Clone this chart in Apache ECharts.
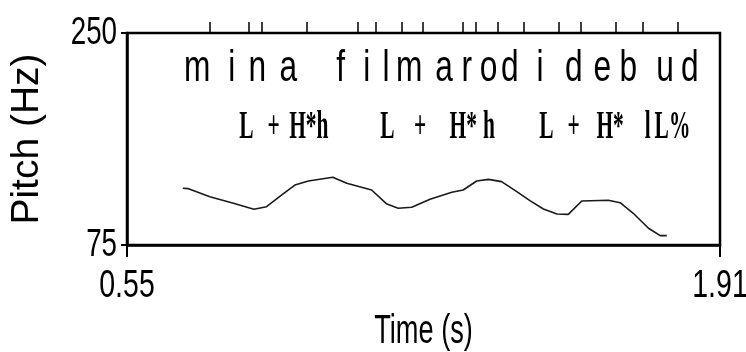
<!DOCTYPE html>
<html>
<head>
<meta charset="utf-8">
<script src="https://cdn.jsdelivr.net/npm/echarts@6/dist/echarts.min.js"></script>
<style>
  html, body { margin: 0; padding: 0; background: #fff; }
  #chart { width: 746px; height: 352px; }
</style>
</head>
<body>
<div id="chart"></div>
<script>
// Pitch contour (time in s, F0 in Hz)
const pitchTimes = [0.678, 0.691, 0.740, 0.794, 0.841, 0.870, 0.905, 0.935, 0.966, 1.022,
                    1.054, 1.111, 1.146, 1.172, 1.203, 1.245, 1.268, 1.295, 1.321, 1.352,
                    1.379, 1.409, 1.444, 1.474, 1.505, 1.536, 1.562, 1.593, 1.654, 1.681,
                    1.711, 1.746, 1.773, 1.788];
const pitchHz = [121.8, 121.5, 114.9, 109.4, 104.5, 106.6, 116.3, 124.5, 127.8, 130.9,
                 125.9, 120.4, 108.8, 105.3, 106.1, 112.7, 115.4, 118.5, 120.4, 127.8,
                 129.2, 127.3, 119.0, 111.6, 104.7, 100.6, 100.3, 111.3, 111.9, 109.9,
                 101.2, 88.8, 82.7, 82.7];

// Segment boundaries (top ticks) and segment labels
const segmentBounds = [0.740, 0.830, 0.860, 0.963, 1.080, 1.121, 1.181, 1.229, 1.321,
                       1.350, 1.401, 1.461, 1.541, 1.591, 1.672, 1.733, 1.812];
const segmentLabels = ['m', 'i', 'n', 'a', 'f', 'i', 'l', 'm', 'a', 'r', 'o', 'd', 'i',
                       'd', 'e', 'b', 'u', 'd'];
const segmentLabelTimes = [0.711, 0.790, 0.849, 0.920, 1.040, 1.100, 1.144, 1.197, 1.277,
                           1.329, 1.379, 1.428, 1.497, 1.575, 1.640, 1.700, 1.784, 1.841];

// Tonal annotation tier
const toneLabels = ['L', '+', 'H*h', 'L', '+', 'H*', 'h', 'L', '+', 'H*', 'l', 'L%'];
const toneTimes = [0.824, 0.886, 0.967, 1.147, 1.222, 1.321, 1.380, 1.512, 1.574, 1.658,
                   1.744, 1.801];

// Axis ranges / tick labels
const timeTicks = [0.55, 1.91];
const pitchTicks = [75, 250];

const chart = echarts.init(document.getElementById('chart'), null, { renderer: 'canvas' });

const sans = "'Liberation Sans', Arial, sans-serif";
const serif = "'Liberation Serif', 'Times New Roman', serif";

// Condensed text placed at a data coordinate, shifted by a pixel offset
function condensedText(text, p, dx, dy, font, scaleX, align) {
  return {
    type: 'text',
    x: p[0] + dx,
    y: p[1] + dy,
    scaleX: scaleX,
    style: {
      text: text,
      font: font,
      fill: '#000',
      align: align || 'center',
      verticalAlign: 'middle'
    }
  };
}

function textTier(labels, rowOffset, font, scaleX) {
  return function (params, api) {
    const p = api.coord([api.value(0), pitchTicks[1]]);
    return condensedText(labels[params.dataIndex], p, 0, rowOffset, font, scaleX);
  };
}

chart.setOption({
  animation: false,
  backgroundColor: '#fff',
  grid: {
    left: 127, right: 26, top: 33, bottom: 107,
    outerBoundsMode: 'none',
    containLabel: false,
    show: true, borderColor: '#000', borderWidth: 2.5, backgroundColor: 'transparent'
  },
  xAxis: [{
    type: 'value',
    min: timeTicks[0], max: timeTicks[1],
    interval: timeTicks[1] - timeTicks[0],
    axisLine: { show: true, lineStyle: { color: '#000', width: 2.5 } },
    axisTick: { show: true, length: 12, lineStyle: { color: '#000', width: 2 } },
    splitLine: { show: false },
    axisLabel: { show: false }
  }, {
    type: 'value', position: 'top',
    min: timeTicks[0], max: timeTicks[1],
    axisLine: { show: false },
    axisTick: { show: true, length: 11, customValues: segmentBounds,
                lineStyle: { color: '#000', width: 1.5 } },
    axisLabel: { show: false },
    splitLine: { show: false }
  }],
  yAxis: {
    type: 'value',
    min: pitchTicks[0], max: pitchTicks[1],
    interval: pitchTicks[1] - pitchTicks[0],
    axisLine: { show: true, lineStyle: { color: '#000', width: 2.5 } },
    axisTick: { show: true, length: 6, lineStyle: { color: '#000', width: 2 } },
    splitLine: { show: false },
    axisLabel: { show: false },
    name: 'Pitch (Hz)', nameLocation: 'middle', nameRotate: 90, nameGap: 80,
    nameTextStyle: { color: '#000', fontFamily: sans, fontSize: 39 }
  },
  series: [{
    type: 'line',
    data: pitchTimes.map((t, i) => [t, pitchHz[i]]),
    showSymbol: false,
    lineStyle: { color: '#1a1a1a', width: 1.6 },
    silent: true
  }, {
    // segment tier
    type: 'custom',
    data: segmentLabelTimes.map(t => [t]),
    renderItem: textTier(segmentLabels, 36, '44px ' + sans, 0.72),
    silent: true
  }, {
    // tone tier
    type: 'custom',
    data: toneTimes.map(t => [t]),
    renderItem: textTier(toneLabels, 95, 'bold 39px ' + serif, 0.55),
    silent: true
  }, {
    // time tick labels
    type: 'custom',
    data: timeTicks.map(t => [t]),
    renderItem: function (params, api) {
      const p = api.coord([api.value(0), pitchTicks[0]]);
      return condensedText(api.value(0).toFixed(2), p, 0, 42, '38px ' + sans, 0.75);
    },
    silent: true
  }, {
    // pitch tick labels
    type: 'custom',
    data: pitchTicks.map(v => [timeTicks[0], v]),
    renderItem: function (params, api) {
      const p = api.coord([timeTicks[0], api.value(1)]);
      return condensedText(String(api.value(1)), p, -10, 1, '38px ' + sans, 0.73, 'right');
    },
    silent: true
  }, {
    // time axis title, centred under the axis
    type: 'custom',
    data: [[(timeTicks[0] + timeTicks[1]) / 2]],
    renderItem: function (params, api) {
      const p = api.coord([api.value(0), pitchTicks[0]]);
      return condensedText('Time (s)', p, 0, 87, '40px ' + sans, 0.68);
    },
    silent: true
  }]
});
</script>
</body>
</html>
